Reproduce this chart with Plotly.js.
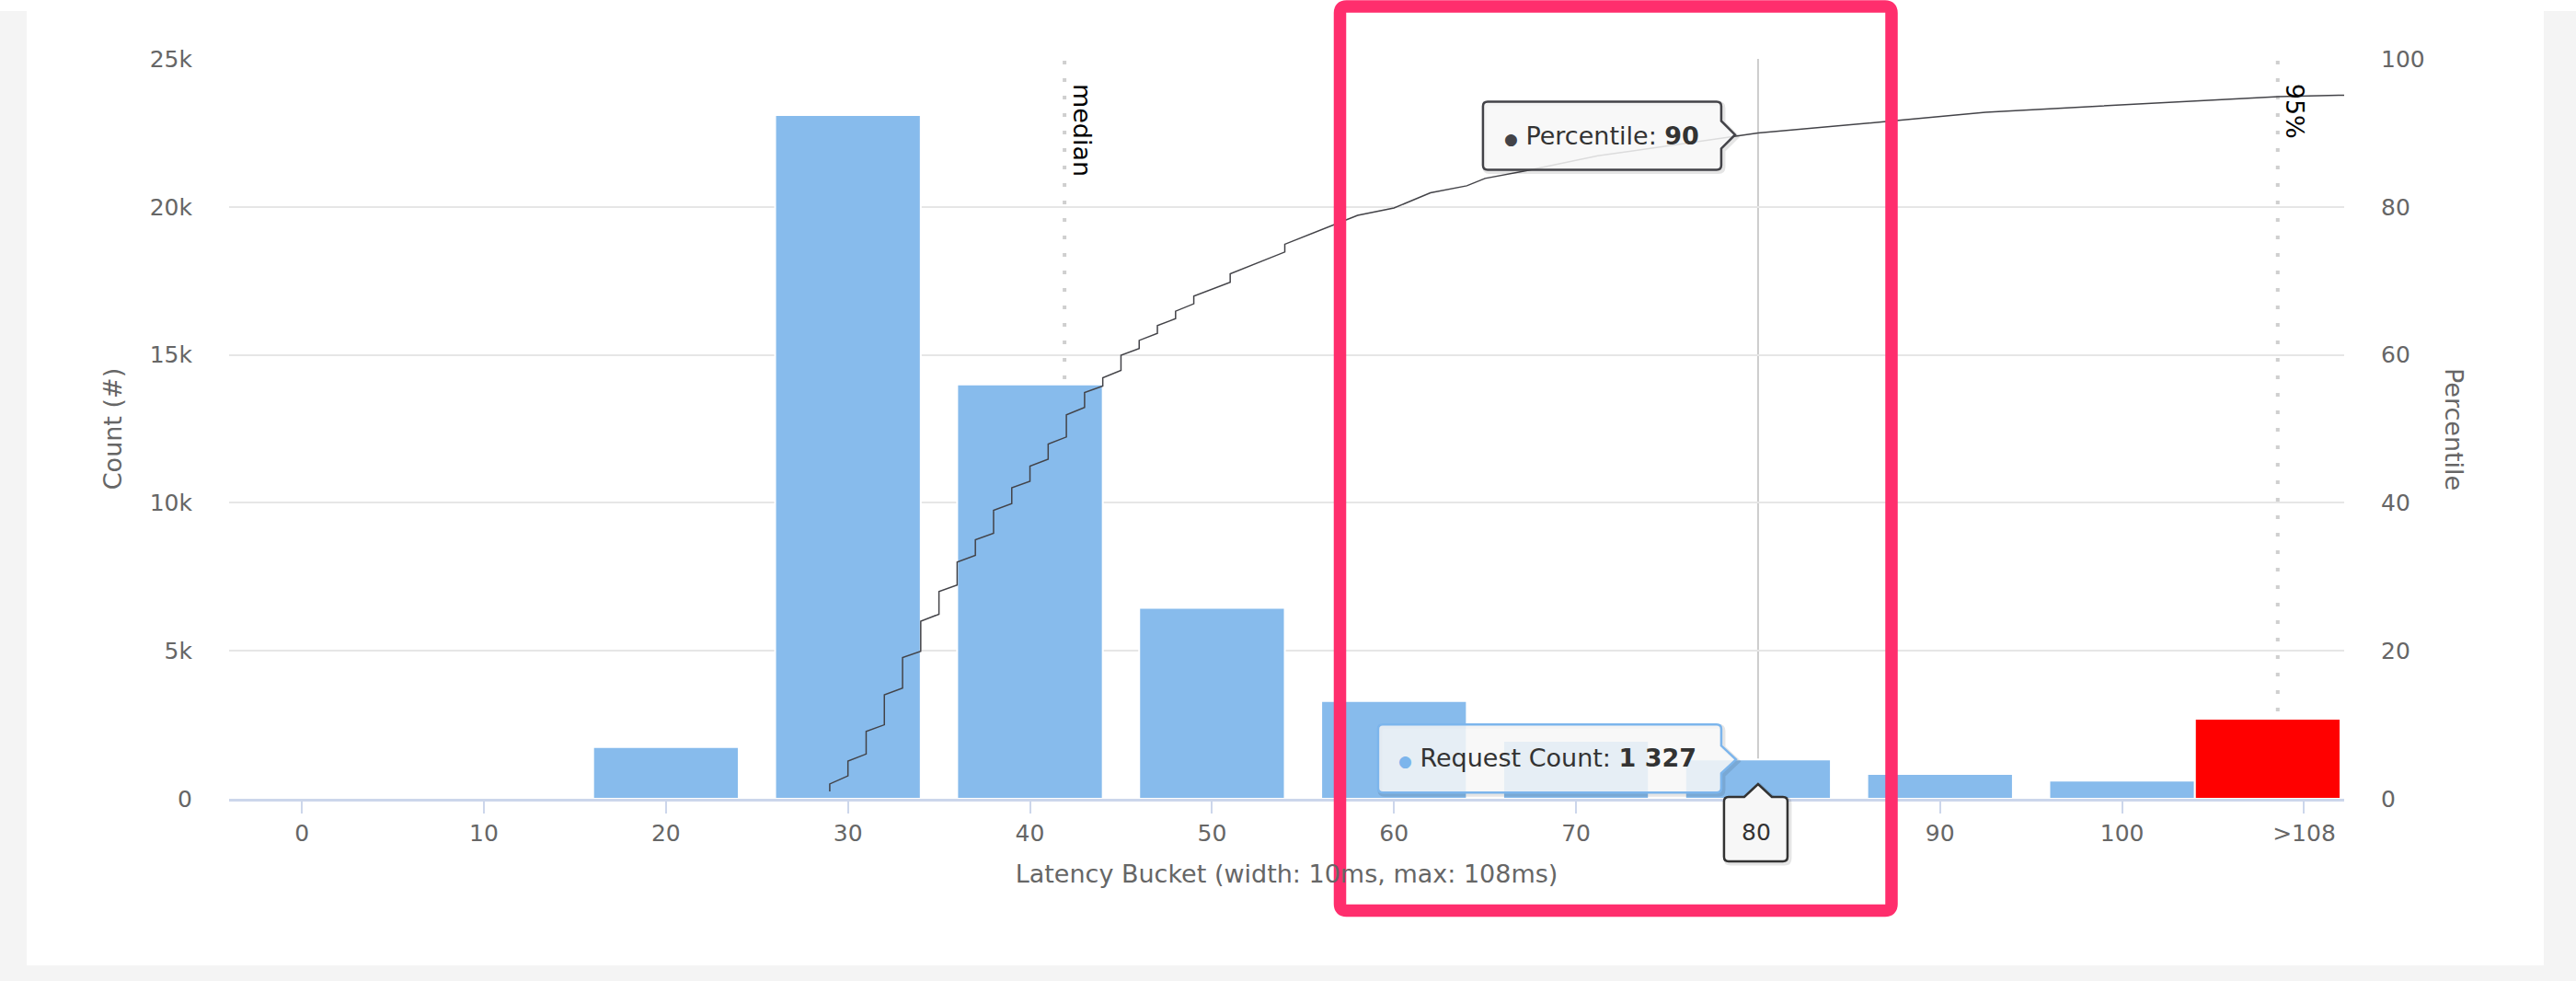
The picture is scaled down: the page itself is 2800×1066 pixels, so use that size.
<!DOCTYPE html>
<html>
<head>
<meta charset="utf-8">
<script src="https://cdn.plot.ly/plotly-3.0.1.min.js"></script>
<style>
html,body{margin:0;padding:0;background:#ffffff;}
#chart{width:2800px;height:1066px;}
</style>
</head>
<body>
<div id="chart"></div>
<script>
// ---------------- data ----------------
const buckets = [0, 10, 20, 30, 40, 50, 60, 70, 80, 90, 100, 108];
const counts  = [0, 0, 1750, 23100, 14000, 6450, 3300, 1960, 1327, 840, 612, 2705];
const overflowBucket = 108;
const tickValues = [0, 10, 20, 30, 40, 50, 60, 70, 80, 90, 100, 110];
const tickLabels = ["0", "10", "20", "30", "40", "50", "60", "70", "80", "90", "100", ">108"];

const pctMs  = [29, 29, 30, 30, 31, 31, 32, 32, 33, 33, 34, 34, 35, 35, 36, 36, 37, 37, 38, 38,
                39, 39, 40, 40, 41, 41, 42, 42, 43, 43, 44, 44, 45, 45, 46, 46, 47, 47, 48, 48,
                49, 49, 51, 51, 54, 54, 58, 60, 62, 64, 65, 67.2, 71.2, 80, 88, 92.5, 108.6, 112.2];
const pctVal = [1.0, 2.0, 3.1, 5.1, 6.05, 9.1, 10.0, 14.05, 14.95, 19.1, 19.95, 24.0, 24.95, 28.0,
                28.9, 32.0, 32.9, 35.0, 35.9, 39.0, 39.9, 42.05, 42.9, 44.95, 45.9, 47.95, 48.9, 51.9,
                52.9, 54.9, 55.8, 56.9, 57.9, 59.95, 60.85, 61.95, 62.9, 63.95, 64.9, 65.9, 66.9, 67.95,
                69.8, 70.95, 73.9, 74.95, 78.85, 79.85, 81.9, 82.85, 83.85, 84.85, 86.9, 90.0, 91.75,
                92.8, 94.9, 95.1];

const medianMs = 41.9;
const p95Ms = 108.55;
const hoverBucket = 80;
const hoverCount = 1327;
const hoverPct = 90;

// ---------------- styles ----------------
const FONT = '"DejaVu Sans", "Lucida Grande", Verdana, sans-serif';
const BLUE = '#87bbec';
const RED = '#ff0000';
const LINE = '#434348';
const TIPBLUE = '#7cb5ec';

function fmtThousands(v) {
  return String(v).replace(/\B(?=(\d{3})+(?!\d))/g, ' ');
}

// callout path in pixel offsets (y up), arrow on right side
function calloutRight(L, R, T, B, tipX, tipY, half, r) {
  return 'M' + (L + r) + ',' + T +
    ' L' + (R - r) + ',' + T +
    ' Q' + R + ',' + T + ' ' + R + ',' + (T - r) +
    ' L' + R + ',' + (tipY + half) +
    ' L' + tipX + ',' + tipY +
    ' L' + R + ',' + (tipY - half) +
    ' L' + R + ',' + (B + r) +
    ' Q' + R + ',' + B + ' ' + (R - r) + ',' + B +
    ' L' + (L + r) + ',' + B +
    ' Q' + L + ',' + B + ' ' + L + ',' + (B + r) +
    ' L' + L + ',' + (T - r) +
    ' Q' + L + ',' + T + ' ' + (L + r) + ',' + T + ' Z';
}
// callout with arrow on top
function calloutTop(L, R, T, B, tipX, tipY, half, r) {
  return 'M' + (L + r) + ',' + T +
    ' L' + (tipX - half) + ',' + T +
    ' L' + tipX + ',' + tipY +
    ' L' + (tipX + half) + ',' + T +
    ' L' + (R - r) + ',' + T +
    ' Q' + R + ',' + T + ' ' + R + ',' + (T - r) +
    ' L' + R + ',' + (B + r) +
    ' Q' + R + ',' + B + ' ' + (R - r) + ',' + B +
    ' L' + (L + r) + ',' + B +
    ' Q' + L + ',' + B + ' ' + L + ',' + (B + r) +
    ' L' + L + ',' + (T - r) +
    ' Q' + L + ',' + T + ' ' + (L + r) + ',' + T + ' Z';
}
function roundRect(L, R, T, B, r) {
  return 'M' + (L + r) + ',' + T +
    ' L' + (R - r) + ',' + T +
    ' Q' + R + ',' + T + ' ' + R + ',' + (T - r) +
    ' L' + R + ',' + (B + r) +
    ' Q' + R + ',' + B + ' ' + (R - r) + ',' + B +
    ' L' + (L + r) + ',' + B +
    ' Q' + L + ',' + B + ' ' + L + ',' + (B + r) +
    ' L' + L + ',' + (T - r) +
    ' Q' + L + ',' + T + ' ' + (L + r) + ',' + T + ' Z';
}
function shift(fn, args, dx, dy) {
  const a = args.slice();
  a[0] += dx; a[1] += dx; a[2] += dy; a[3] += dy; a[4] += dx; a[5] += dy;
  return fn.apply(null, a);
}

// pixel-anchored shape helper
function pxShape(xref, xanchor, yref, yanchor, path, extra) {
  return Object.assign({
    type: 'path', xref: xref, yref: yref,
    xsizemode: 'pixel', ysizemode: 'pixel',
    xanchor: xanchor, yanchor: yanchor, path: path
  }, extra);
}

// ---------------- traces ----------------
const barColors = buckets.map(b => b === overflowBucket ? RED : BLUE);

const traces = [
  {
    type: 'bar', name: 'Request Count',
    x: buckets, y: counts, width: 8,
    marker: { color: barColors, line: { color: '#ffffff', width: 2 } },
    hoverinfo: 'skip'
  },
  {
    type: 'scatter', mode: 'lines', name: 'Percentile',
    x: pctMs, y: pctVal, yaxis: 'y2',
    line: { color: LINE, width: 1.5 },
    hoverinfo: 'skip'
  }
];

// ---------------- decorations ----------------
const reqArgs = [-413, -40, 38, -36, -24, 0, 15, 5];
const pctArgs = [-299, -40, 34, -40, -25, -2, 15, 5];
const xlabArgs = [-37, 32, 2, -68, 0, 16, 15, 5];

const shapes = [
  // page frame (gray strips around white panel)
  pxShape('paper', 0, 'paper', 0, 'M-249,856 L-220,856 L-220,-198 L-249,-198 Z',
          { fillcolor: '#f4f4f4', line: { width: 0 }, layer: 'below' }),
  pxShape('paper', 0, 'paper', 0, 'M2516,856 L2551,856 L2551,-198 L2516,-198 Z',
          { fillcolor: '#f4f4f4', line: { width: 0 }, layer: 'below' }),
  pxShape('paper', 0, 'paper', 0, 'M-249,-181 L2551,-181 L2551,-198 L-249,-198 Z',
          { fillcolor: '#f4f4f4', line: { width: 0 }, layer: 'below' }),
  // crosshair
  { type: 'line', xref: 'x', yref: 'paper', x0: hoverBucket, x1: hoverBucket, y0: 0, y1: 1,
    line: { color: '#cccccc', width: 2 }, layer: 'below' },
  // plot lines
  { type: 'line', xref: 'x', yref: 'paper', x0: medianMs, x1: medianMs, y0: 0, y1: 1,
    line: { color: '#cfcfcf', width: 4, dash: '4px,15px' }, layer: 'below' },
  { type: 'line', xref: 'x', yref: 'paper', x0: p95Ms, x1: p95Ms, y0: 0, y1: 1,
    line: { color: '#cfcfcf', width: 4, dash: '4px,15px' }, layer: 'below' },
  // tooltip shadows
  pxShape('x', hoverBucket, 'y', hoverCount, shift(calloutRight, reqArgs, 2, -2),
          { fillcolor: 'rgba(0,0,0,0)', line: { color: 'rgba(0,0,0,0.10)', width: 5 } }),
  pxShape('x', hoverBucket, 'y2', hoverPct, shift(calloutRight, pctArgs, 2, -2),
          { fillcolor: 'rgba(0,0,0,0)', line: { color: 'rgba(0,0,0,0.10)', width: 5 } }),
  pxShape('x', hoverBucket, 'paper', 0, shift(calloutTop, xlabArgs, 2, -2),
          { fillcolor: 'rgba(0,0,0,0)', line: { color: 'rgba(0,0,0,0.10)', width: 5 } }),
  // tooltips
  pxShape('x', hoverBucket, 'y', hoverCount, calloutRight.apply(null, reqArgs),
          { fillcolor: 'rgba(247,247,247,0.85)', line: { color: TIPBLUE, width: 2.5 } }),
  pxShape('x', hoverBucket, 'y2', hoverPct, calloutRight.apply(null, pctArgs),
          { fillcolor: 'rgba(247,247,247,0.85)', line: { color: LINE, width: 2.5 } }),
  pxShape('x', hoverBucket, 'paper', 0, calloutTop.apply(null, xlabArgs),
          { fillcolor: 'rgba(247,247,247,1)', line: { color: '#333333', width: 2.5 } }),
  // highlight frame
  pxShape('paper', 0, 'paper', 0, roundRect(1207.5, 1807, 861, -121.5, 7),
          { fillcolor: 'rgba(0,0,0,0)', line: { color: '#ff2e6d', width: 13.5 } })
];

const annotations = [
  { xref: 'x', yref: 'paper', x: medianMs, y: 1, xanchor: 'left', yanchor: 'top',
    xshift: 2, yshift: -25, textangle: 90, showarrow: false, text: 'median',
    font: { family: FONT, size: 27, color: '#000000' } },
  { xref: 'x', yref: 'paper', x: p95Ms, y: 1, xanchor: 'left', yanchor: 'top',
    xshift: 2, yshift: -25, textangle: 90, showarrow: false, text: '95%',
    font: { family: FONT, size: 27, color: '#000000' } },
  { xref: 'paper', yref: 'paper', x: 1.0522, y: 0.5, xanchor: 'center', yanchor: 'middle',
    textangle: 90, showarrow: false, text: 'Percentile',
    font: { family: FONT, size: 27, color: '#666666' } },
  { xref: 'x', yref: 'y', x: hoverBucket, y: hoverCount, xanchor: 'left', yanchor: 'middle',
    xshift: -393, yshift: 2, showarrow: false,
    text: '<span style="color:' + TIPBLUE + ';font-size:17px">●</span> Request Count: <b>' + fmtThousands(hoverCount) + '</b>',
    font: { family: FONT, size: 27, color: '#333333' } },
  { xref: 'x', yref: 'y2', x: hoverBucket, y: hoverPct, xanchor: 'left', yanchor: 'middle',
    xshift: -278, yshift: -3, showarrow: false,
    text: '<span style="color:' + LINE + ';font-size:17px">●</span> Percentile: <b>' + hoverPct + '</b>',
    font: { family: FONT, size: 27, color: '#333333' } },
  { xref: 'x', yref: 'paper', x: hoverBucket, y: 0, xanchor: 'center', yanchor: 'middle',
    xshift: -2, yshift: -36, showarrow: false, text: String(hoverBucket),
    font: { family: FONT, size: 25, color: '#333333' } }
];

const layout = {
  width: 2800, height: 1066,
  margin: { l: 249, r: 252, t: 64, b: 198, pad: 0 },
  paper_bgcolor: '#ffffff', plot_bgcolor: 'rgba(0,0,0,0)',
  showlegend: false,
  hovermode: false,
  font: { family: FONT, color: '#666666', size: 25 },
  xaxis: {
    range: [-4, 112.2], tickmode: 'array', tickvals: tickValues, ticktext: tickLabels,
    ticks: 'outside', ticklen: 13, tickwidth: 2, tickcolor: '#ccd6eb',
    showline: true, linecolor: '#ccd6eb', linewidth: 3,
    showgrid: false, zeroline: false,
    tickfont: { family: FONT, size: 25, color: '#666666' },
    title: { text: 'Latency Bucket (width: 10ms, max: 108ms)', font: { family: FONT, size: 27, color: '#666666' }, standoff: 22 },
    fixedrange: true
  },
  yaxis: {
    range: [0, 25000], tick0: 0, dtick: 5000, tickformat: '~s',
    showgrid: true, gridcolor: '#e6e6e6', gridwidth: 2,
    zeroline: false, showline: false,
    ticks: 'outside', ticklen: 34, tickcolor: 'rgba(0,0,0,0)',
    tickfont: { family: FONT, size: 25, color: '#666666' },
    title: { text: 'Count (#)', font: { family: FONT, size: 27, color: '#666666' }, standoff: 22 },
    fixedrange: true
  },
  yaxis2: {
    range: [0, 100], tick0: 0, dtick: 20, overlaying: 'y', side: 'right',
    showgrid: false, zeroline: false, showline: false,
    ticks: 'outside', ticklen: 34, tickcolor: 'rgba(0,0,0,0)',
    tickfont: { family: FONT, size: 25, color: '#666666' },
    fixedrange: true
  },
  shapes: shapes,
  annotations: annotations
};

Plotly.newPlot('chart', traces, layout, { staticPlot: true, displayModeBar: false });
</script>
</body>
</html>
